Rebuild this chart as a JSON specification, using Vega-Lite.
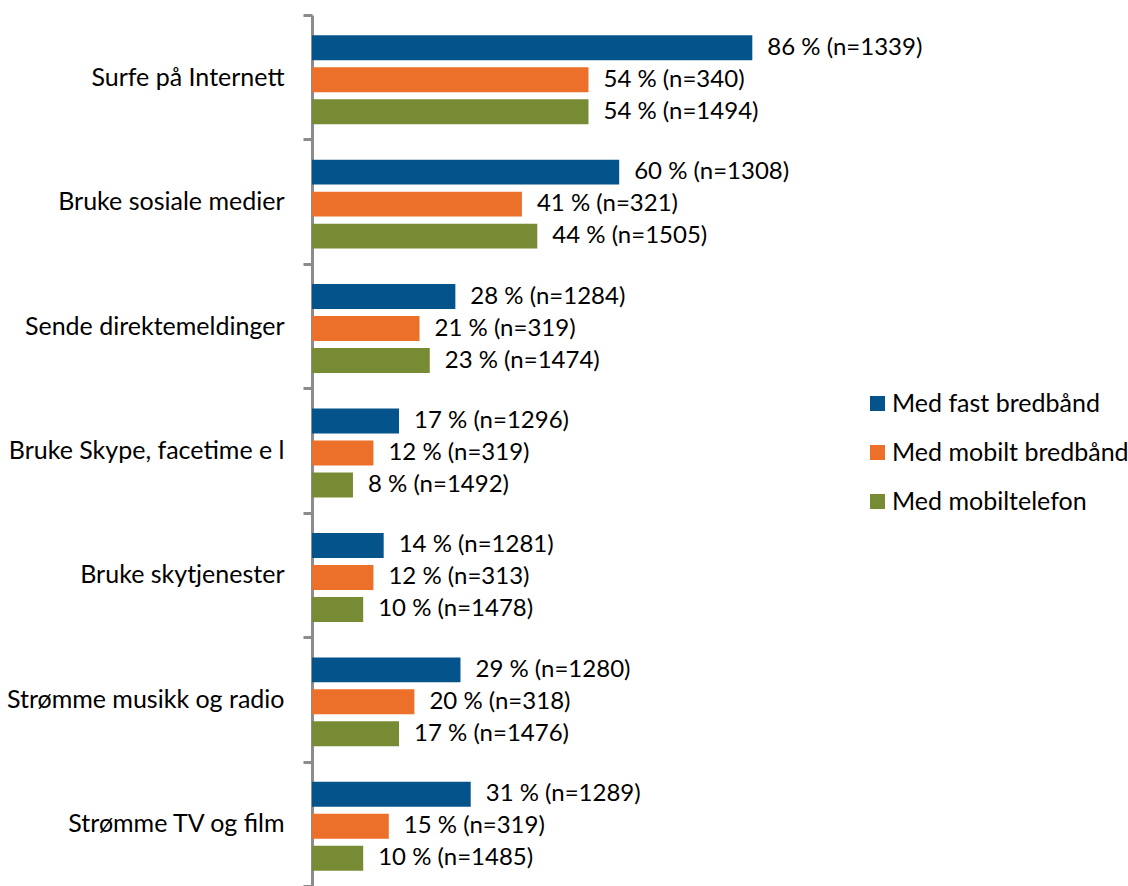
{
  "$schema": "https://vega.github.io/schema/vega-lite/v6.json",
  "autosize": {"type": "none"},
  "width": 512,
  "height": 871,
  "padding": {"left": 312, "top": 15, "right": 304, "bottom": 0},
  "background": "white",
  "config": {"view": {"stroke": null}, "font": "Lato"},
  "data": {"values": [
    {"cat": "Surfe på Internett", "series": "Med fast bredbånd", "value": 86, "label": "86 % (n=1339)"},
    {"cat": "Surfe på Internett", "series": "Med mobilt bredbånd", "value": 54, "label": "54 % (n=340)"},
    {"cat": "Surfe på Internett", "series": "Med mobiltelefon", "value": 54, "label": "54 % (n=1494)"},
    {"cat": "Bruke sosiale medier", "series": "Med fast bredbånd", "value": 60, "label": "60 % (n=1308)"},
    {"cat": "Bruke sosiale medier", "series": "Med mobilt bredbånd", "value": 41, "label": "41 % (n=321)"},
    {"cat": "Bruke sosiale medier", "series": "Med mobiltelefon", "value": 44, "label": "44 % (n=1505)"},
    {"cat": "Sende direktemeldinger", "series": "Med fast bredbånd", "value": 28, "label": "28 % (n=1284)"},
    {"cat": "Sende direktemeldinger", "series": "Med mobilt bredbånd", "value": 21, "label": "21 % (n=319)"},
    {"cat": "Sende direktemeldinger", "series": "Med mobiltelefon", "value": 23, "label": "23 % (n=1474)"},
    {"cat": "Bruke Skype, facetime e l", "series": "Med fast bredbånd", "value": 17, "label": "17 % (n=1296)"},
    {"cat": "Bruke Skype, facetime e l", "series": "Med mobilt bredbånd", "value": 12, "label": "12 % (n=319)"},
    {"cat": "Bruke Skype, facetime e l", "series": "Med mobiltelefon", "value": 8, "label": "8 % (n=1492)"},
    {"cat": "Bruke skytjenester", "series": "Med fast bredbånd", "value": 14, "label": "14 % (n=1281)"},
    {"cat": "Bruke skytjenester", "series": "Med mobilt bredbånd", "value": 12, "label": "12 % (n=313)"},
    {"cat": "Bruke skytjenester", "series": "Med mobiltelefon", "value": 10, "label": "10 % (n=1478)"},
    {"cat": "Strømme musikk og radio", "series": "Med fast bredbånd", "value": 29, "label": "29 % (n=1280)"},
    {"cat": "Strømme musikk og radio", "series": "Med mobilt bredbånd", "value": 20, "label": "20 % (n=318)"},
    {"cat": "Strømme musikk og radio", "series": "Med mobiltelefon", "value": 17, "label": "17 % (n=1476)"},
    {"cat": "Strømme TV og film", "series": "Med fast bredbånd", "value": 31, "label": "31 % (n=1289)"},
    {"cat": "Strømme TV og film", "series": "Med mobilt bredbånd", "value": 15, "label": "15 % (n=319)"},
    {"cat": "Strømme TV og film", "series": "Med mobiltelefon", "value": 10, "label": "10 % (n=1485)"}
  ]},
  "encoding": {
    "y": {
      "field": "cat", "type": "nominal",
      "sort": ["Surfe på Internett", "Bruke sosiale medier", "Sende direktemeldinger", "Bruke Skype, facetime e l", "Bruke skytjenester", "Strømme musikk og radio", "Strømme TV og film"],
      "scale": {"paddingInner": 0, "paddingOuter": 0},
      "axis": {
        "title": null, "domainColor": "#8c8c8c", "domainWidth": 3,
        "tickColor": "#8c8c8c", "tickWidth": 3, "tickSize": 9, "tickBand": "extent",
        "labelFontSize": 25, "labelColor": "#000000", "labelPadding": 19, "labelLimit": 400, "labelFont": "Lato"
      }
    },
    "yOffset": {
      "field": "series", "type": "nominal",
      "sort": ["Med fast bredbånd", "Med mobilt bredbånd", "Med mobiltelefon"],
      "scale": {"paddingInner": 0.22, "paddingOuter": 0.555, "align": 0.57}
    },
    "x": {"field": "value", "type": "quantitative", "scale": {"domain": [0, 100]}, "axis": null}
  },
  "layer": [
    {
      "mark": {"type": "bar"},
      "encoding": {
        "color": {
          "field": "series", "type": "nominal",
          "sort": ["Med fast bredbånd", "Med mobilt bredbånd", "Med mobiltelefon"],
          "scale": {"range": ["#04538A", "#EC7029", "#778B35"]},
          "legend": {
            "title": null, "orient": "none", "legendX": 553, "legendY": 376,
            "symbolType": "square", "symbolSize": 225, "symbolStrokeWidth": 0,
            "labelFontSize": 25, "labelColor": "#000000", "labelFont": "Lato",
            "rowPadding": 23, "labelOffset": 2, "labelLimit": 400
          }
        }
      }
    },
    {
      "mark": {"type": "text", "align": "left", "baseline": "middle", "dx": 15, "fontSize": 24, "color": "#000000", "font": "Lato"},
      "encoding": {"text": {"field": "label"}}
    }
  ]
}
